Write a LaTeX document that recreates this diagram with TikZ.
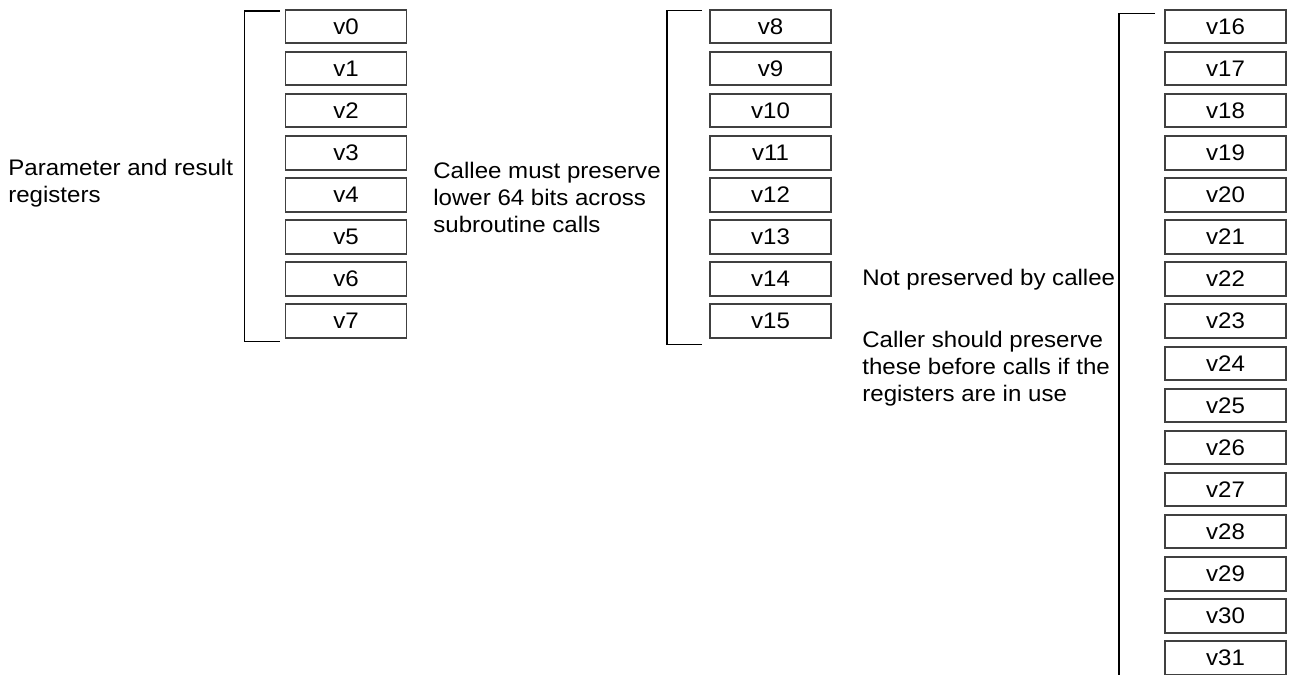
\documentclass[tikz,border=0pt]{standalone}
\usepackage{fontspec}
\setmainfont[FakeStretch=1.07]{Liberation Sans}
\usetikzlibrary{calc}
\begin{document}
\begin{tikzpicture}[x=0.02cm, y=-0.02cm,
                regbox/.style={rectangle, draw=black!75, line width=1.1pt, minimum width=2.42cm, minimum height=0.67cm, inner sep=0pt, font=\fontsize{12.8}{15.3}\selectfont},
                bracket/.style={draw, line width=0.85pt},
                note/.style={anchor=north west, align=left, inner sep=0pt, font=\fontsize{12.8}{15.3}\selectfont}
            ]
            \useasboundingbox (0,0) rectangle (1292,674);

            % Parameter and result registers
            \node[regbox] (v0) at (346, 26.5) {v0};
            \node[regbox] (v1) at (346, 68.6) {v1};
            \node[regbox] (v2) at (346, 110.7) {v2};
            \node[regbox] (v3) at (346, 152.8) {v3};
            \node[regbox] (v4) at (346, 194.9) {v4};
            \node[regbox] (v5) at (346, 237.0) {v5};
            \node[regbox] (v6) at (346, 279.1) {v6};
            \node[regbox] (v7) at (346, 321.2) {v7};
            \draw[bracket] ($(v0.north west)+(-5,2)$) -- ($(v0.north west)+(-40,2)$)
                -- ($(v7.south west)+(-40,2.5)$) -- ($(v7.south west)+(-5,2.5)$);
            \node[note] (params) at (8, 159) {Parameter and result\\registers};

            % Callee saved registers
            \node[regbox] (v8) at (770.5, 26.5) {v8};
            \node[regbox] (v9) at (770.5, 68.6) {v9};
            \node[regbox] (v10) at (770.5, 110.7) {v10};
            \node[regbox] (v11) at (770.5, 152.8) {v11};
            \node[regbox] (v12) at (770.5, 194.9) {v12};
            \node[regbox] (v13) at (770.5, 237.0) {v13};
            \node[regbox] (v14) at (770.5, 279.1) {v14};
            \node[regbox] (v15) at (770.5, 321.2) {v15};
            \draw[bracket] ($(v8.north west)+(-7,1.5)$) -- ($(v8.north west)+(-42,1.5)$)
                -- ($(v15.south west)+(-42,5.5)$) -- ($(v15.south west)+(-7,5.5)$);
            \node[note] (calleesaved) at (433, 162) {Callee must preserve\\lower 64 bits across\\subroutine calls};

            % Caller saved registers
            \node[regbox] (v16) at (1225.5, 26.5) {v16};
            \node[regbox] (v17) at (1225.5, 68.6) {v17};
            \node[regbox] (v18) at (1225.5, 110.7) {v18};
            \node[regbox] (v19) at (1225.5, 152.8) {v19};
            \node[regbox] (v20) at (1225.5, 194.9) {v20};
            \node[regbox] (v21) at (1225.5, 237.0) {v21};
            \node[regbox] (v22) at (1225.5, 279.1) {v22};
            \node[regbox] (v23) at (1225.5, 321.2) {v23};
            \node[regbox] (v24) at (1225.5, 363.3) {v24};
            \node[regbox] (v25) at (1225.5, 405.4) {v25};
            \node[regbox] (v26) at (1225.5, 447.5) {v26};
            \node[regbox] (v27) at (1225.5, 489.6) {v27};
            \node[regbox] (v28) at (1225.5, 531.7) {v28};
            \node[regbox] (v29) at (1225.5, 573.8) {v29};
            \node[regbox] (v30) at (1225.5, 615.9) {v30};
            \node[regbox] (v31) at (1225.5, 658.0) {v31};
            \draw[bracket] ($(v16.north west)+(-9,4.5)$) -- ($(v16.north west)+(-45,4.5)$)
                -- ($(v31.south west)+(-45,20)$);
            \node[note] (notsaved) at (862, 269) {Not preserved by callee};
            \node[note] (callersaved) at (862, 331) {Caller should preserve\\these before calls if the\\registers are in use};

        \end{tikzpicture}
\end{document}
